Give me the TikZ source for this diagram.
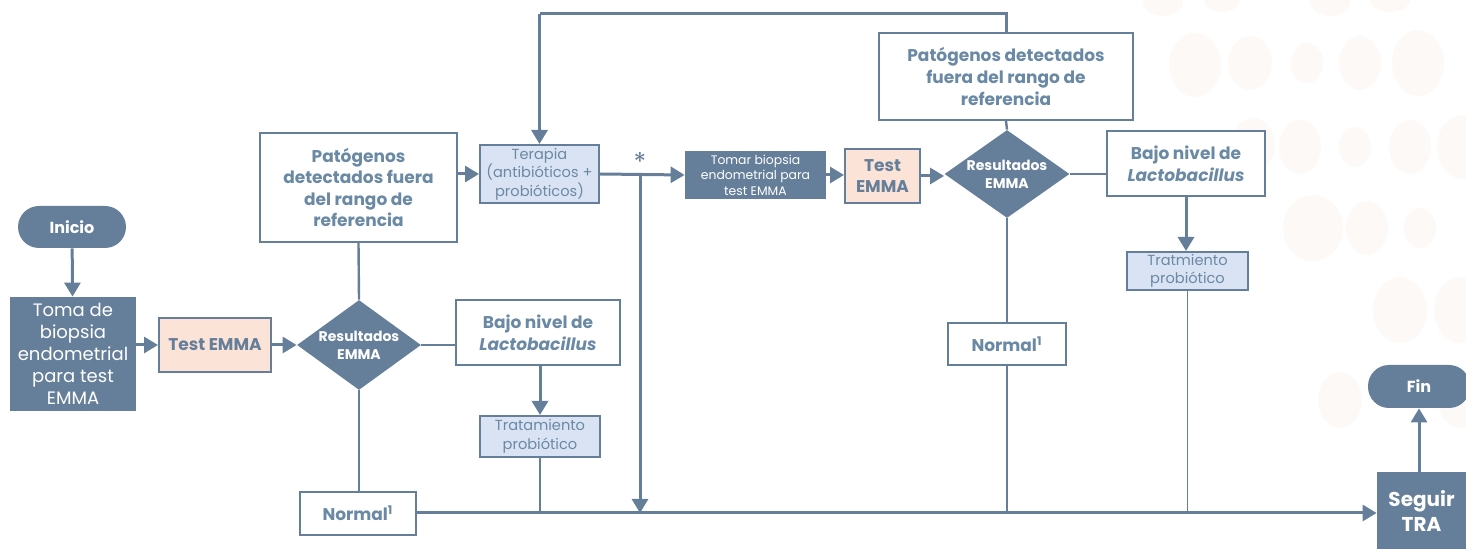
\documentclass[tikz,border=0pt]{standalone}
\usepackage{fontspec}
\setmainfont{Poppins}
\usetikzlibrary{shapes.geometric,arrows.meta}
\definecolor{dk}{HTML}{657F9A}
\definecolor{tx}{HTML}{6A89A5}
\definecolor{lb}{HTML}{DAE3F3}
\definecolor{pe}{HTML}{FBE4D7}
\definecolor{bgc}{HTML}{FDF9F7}
\tikzset{
  base/.style={inner sep=1pt, align=center, font=\fontsize{8.5}{10.5}\selectfont},
  whitebox/.style={base, draw=dk, line width=1pt, fill=white, text=tx, font=\fontsize{8.5}{10.8}\selectfont\bfseries},
  darkbox/.style={base, fill=dk, text=white},
  lightbox/.style={base, draw=dk, line width=1pt, fill=lb, text=tx, font=\fontsize{7.3}{9.2}\selectfont},
  peachbox/.style={base, draw=dk, line width=1pt, fill=pe, text=dk, font=\fontsize{8.5}{10.5}\selectfont\bfseries},
  term/.style={base, fill=dk, text=white, rounded corners=10.5pt, font=\fontsize{8}{10}\selectfont\bfseries},
  dia/.style={diamond, fill=dk, inner sep=0pt, aspect=1.38},
  diatext/.style={text=white, align=center, font=\fontsize{7}{9}\selectfont\bfseries},
  arr/.style={draw=dk, line width=1.5pt, -{Triangle[length=7pt,width=8pt]}},
  thick line/.style={draw=dk, line width=1.5pt},
  mid line/.style={draw=dk, line width=1.2pt},
  thin line/.style={draw=dk, line width=0.8pt},
}
\begin{document}
\begin{tikzpicture}[x=0.5pt,y=-0.5pt]
\useasboundingbox (0,0) rectangle (1466,549);
% faint background dots
\begin{scope}
\fill[bgc] (1163,2) ellipse (20 and 14);
\fill[bgc] (1222,0) ellipse (18 and 12);
\fill[bgc] (1330,2) ellipse (20 and 14);
\fill[bgc] (1390,0) ellipse (20 and 12);
\fill[bgc] (1195,65) ellipse (26 and 32);
\fill[bgc] (1250,63) ellipse (22 and 27);
\fill[bgc] (1307,63) ellipse (16 and 20);
\fill[bgc] (1360,63) ellipse (21 and 27);
\fill[bgc] (1418,63) ellipse (26 and 33);
\fill[bgc] (1253,145) ellipse (22 and 27);
\fill[bgc] (1300,147) ellipse (21 and 27);
\fill[bgc] (1355,147) ellipse (16 and 20);
\fill[bgc] (1410,147) ellipse (21 and 27);
\fill[bgc] (1463,147) ellipse (26 and 32);
\fill[bgc] (1313,228) ellipse (30 and 33);
\fill[bgc] (1367,228) ellipse (21 and 27);
\fill[bgc] (1420,228) ellipse (16 and 20);
\fill[bgc] (1400,310) ellipse (27 and 33);
\fill[bgc] (1460,310) ellipse (26 and 33);
\fill[bgc] (1340,400) ellipse (22 and 28);
\fill[bgc] (1460,400) ellipse (22 and 28);
\end{scope}

% nodes
\node[term, minimum width=54pt, minimum height=21pt] (inicio) at (72,227) {Inicio};
\node[darkbox, minimum width=63pt, minimum height=57pt, font=\fontsize{9}{11}\selectfont] (toma) at (73,354) {Toma de\\biopsia\\endometrial\\para test\\EMMA};
\node[peachbox, minimum width=56pt, minimum height=27pt] (test1) at (215,345) {Test EMMA};
\node[dia, minimum width=62pt, minimum height=45pt] (d1) at (359,345) {};
\node[diatext] (d1t) at (d1.center) {Resultados\\EMMA};
\node[whitebox, minimum width=98.5pt, minimum height=54.5pt] (pat1) at (358.5,187.5) {Patógenos\\detectados fuera\\del rango de\\referencia};
\node[lightbox, minimum width=59.5pt, minimum height=29pt] (terapia) at (539.5,174) {Terapia\\(antibióticos +\\probióticos)};
\node[darkbox, minimum width=70.5pt, minimum height=24pt, font=\fontsize{6.2}{7.8}\selectfont] (tomar) at (755.5,175) {Tomar biopsia\\endometrial para\\test EMMA};
\node[peachbox, minimum width=37.5pt, minimum height=27pt] (test2) at (882.5,176) {Test\\EMMA};
\node[dia, minimum width=62.5pt, minimum height=44pt] (d2) at (1007,174) {};
\node[diatext] (d2t) at (d2.center) {Resultados\\EMMA};
\node[whitebox, minimum width=127pt, minimum height=43.5pt] (pat2) at (1006,76.5) {Patógenos detectados\\fuera del rango de\\referencia};
\node[whitebox, minimum width=79pt, minimum height=32.5pt] (bajo2) at (1186,163.5) {Bajo nivel de\\\textit{Lactobacillus}};
\node[lightbox, minimum width=60.5pt, minimum height=19pt] (trat2) at (1187.5,271) {Tratmiento\\probiótico};
\node[whitebox, minimum width=59pt, minimum height=21pt] (normal2) at (1007,344) {Normal\textsuperscript{1}};
\node[whitebox, minimum width=82pt, minimum height=32.5pt] (bajo1) at (538,332.5) {Bajo nivel de\\\textit{Lactobacillus}};
\node[lightbox, minimum width=60pt, minimum height=20.5pt] (trat1) at (540,436.5) {Tratamiento\\probiótico};
\node[whitebox, minimum width=58pt, minimum height=21.5pt] (normal1) at (358,513.5) {Normal\textsuperscript{1}};
\node[darkbox, minimum width=44.5pt, minimum height=39pt, font=\fontsize{10}{12.5}\selectfont\bfseries] (seguir) at (1421.5,511) {Seguir\\TRA};
\node[term, minimum width=51pt, minimum height=21.5pt] (fin) at (1419,386.5) {Fin};

\node[text=dk, font=\fontsize{13}{13}\selectfont] (star) at (640,162) {*};

% coordinates
\coordinate (top) at (0,14);
\coordinate (j) at (640,174);
\coordinate (bot) at (0,513);

% connectors
\draw[arr] (inicio) -- (toma);
\draw[arr] (test1.west -| toma.east) -- (test1.west);
\draw[arr] (test1) -- (d1);
\draw[mid line] (d1.north) -- (pat1.south);
\draw[arr] (terapia.west -| pat1.east) -- (terapia.west);
\draw[arr] (terapia.east) -- (tomar.west);
\draw[arr] (j) -- (j |- bot);
\draw[thick line] (pat2.north) -- (pat2.north |- top) -- (terapia.north |- top);
\draw[arr] (terapia.north |- top) -- (terapia.north);
\draw[arr] (tomar.east) -- (test2.west |- tomar.east);
\draw[arr] (test2.east) -- (d2.west |- test2.east);
\draw[mid line] (d2.north) -- (pat2.south);
\draw[mid line] (d2.east) -- (bajo2.west |- d2.east);
\draw[arr] (bajo2.south) -- (trat2.north -| bajo2.south);
\draw[thin line] (trat2.south) -- (trat2.south |- bot);
\draw[thin line] (d2.south) -- (normal2.north);
\draw[thin line] (normal2.south) -- (normal2.south |- bot);
\draw[mid line] (d1.east) -- (bajo1.west |- d1.east);
\draw[arr] (bajo1.south -| trat1.north) -- (trat1.north);
\draw[thin line] (trat1.south) -- (trat1.south |- bot);
\draw[mid line] (d1.south) -- (normal1.north -| d1.south);
\draw[arr] (normal1.east |- bot) -- (seguir.west |- bot);
\draw[arr] (seguir.north -| fin.south) -- (fin.south);
\end{tikzpicture}
\end{document}
